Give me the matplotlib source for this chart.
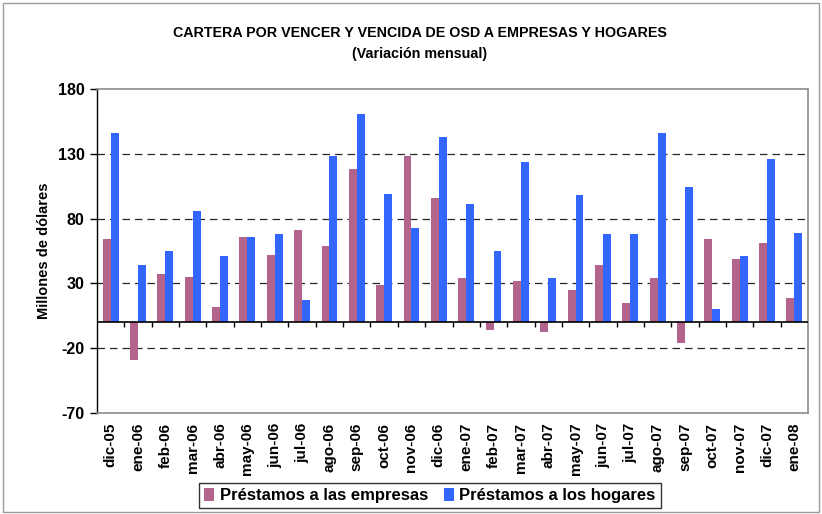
import matplotlib
matplotlib.use("Agg")
import matplotlib.pyplot as plt
import numpy as np
from matplotlib.patches import Rectangle

# ── Data ──────────────────────────────────────────────────────────────────────
months = ["dic-05", "ene-06", "feb-06", "mar-06", "abr-06", "may-06", "jun-06",
          "jul-06", "ago-06", "sep-06", "oct-06", "nov-06", "dic-06", "ene-07",
          "feb-07", "mar-07", "abr-07", "may-07", "jun-07", "jul-07", "ago-07",
          "sep-07", "oct-07", "nov-07", "dic-07", "ene-08"]
empresas = [64, -29, 37, 35, 11.5, 66, 52, 71.5, 58.5, 118, 29, 128.5, 96, 34.5,
            -6, 32, -7.5, 25, 44.5, 14.5, 34.5, -16, 64, 49, 61.5, 19]
hogares = [146, 44, 55, 86, 51.5, 66, 68.5, 17, 128, 161, 99, 72.5, 143, 91,
           55, 124, 34.5, 98.5, 68.5, 68.5, 146, 104, 10, 51.5, 126, 69]
yticks = [-70, -20, 30, 80, 130, 180]

C_EMP = "#B3648C"
C_EMP_STRIPE = "#9C4D76"
C_HOG = "#3366FF"

plt.rcParams["font.family"] = ["Liberation Sans", "DejaVu Sans"]
plt.rcParams["hatch.linewidth"] = 0.6
plt.rcParams["hatch.color"] = C_EMP_STRIPE

fig = plt.figure(figsize=(8.22, 5.14), dpi=100, facecolor="white")
ax = fig.add_axes([97 / 822, 1 - 413 / 514, 711 / 822, 324 / 514])

# outer chart frame
fig.patches.append(Rectangle((0.004, 0.004), 0.992, 0.99, transform=fig.transFigure,
                             fill=False, ec="#9A9A9A", lw=1.0))

x = np.arange(len(months))
w = 0.29
ax.bar(x - w / 2, empresas, width=w, color=C_EMP, hatch="|||||", edgecolor=C_EMP,
       linewidth=0, zorder=3, label="Préstamos a las empresas")
ax.bar(x + w / 2, hogares, width=w, color=C_HOG, linewidth=0, zorder=3,
       label="Préstamos a los hogares")

ax.set_ylim(-70, 180)
ax.set_xlim(-0.5, len(months) - 0.5)
ax.set_yticks(yticks)
ax.set_yticklabels([str(t) for t in yticks], fontsize=11.5, fontweight="bold")
for t in yticks[1:-1]:
    ax.axhline(t, color="black", lw=0.9, ls=(0, (6, 4)), zorder=1, alpha=0.85)

ax.axhline(0, color="black", lw=1.2, zorder=4)
bounds = np.arange(len(months) + 1) - 0.5
ax.vlines(bounds[1:-1], -3.5, 0, color="black", lw=1.0, zorder=4)

ax.set_xticks(x)
ax.set_xticklabels(months, rotation=90, fontsize=11, fontweight="bold")
ax.tick_params(axis="x", length=0, pad=7)
ax.tick_params(axis="y", direction="out", length=5, width=1, color="black", pad=4)

for s in ("top", "right", "bottom"):
    ax.spines[s].set_color("#8C8C8C")
    ax.spines[s].set_linewidth(1.2)
ax.spines["left"].set_color("black")
ax.spines["left"].set_linewidth(1.0)

ax.set_ylabel("Millones de dólares", fontsize=10.5, fontweight="bold", labelpad=5)

fig.text(0.511, 1 - 33 / 514, "CARTERA POR VENCER Y VENCIDA DE OSD A EMPRESAS Y HOGARES",
         ha="center", va="center", fontsize=10.3, fontweight="bold")
fig.text(0.511, 1 - 54 / 514, "(Variación mensual)",
         ha="center", va="center", fontsize=10.3, fontweight="bold")

leg = fig.legend(loc="upper center", bbox_to_anchor=(430 / 822, 1 - 483 / 514),
                 ncol=2, frameon=True, fancybox=False,
                 prop={"weight": "bold", "size": 12}, handlelength=0.6, handleheight=0.8,
                 handletextpad=0.35, columnspacing=0.9, borderpad=0.3,
                 borderaxespad=0)
leg.get_frame().set_edgecolor("black")
leg.get_frame().set_linewidth(1.0)

fig.savefig("out.png", dpi=100, facecolor="white")
